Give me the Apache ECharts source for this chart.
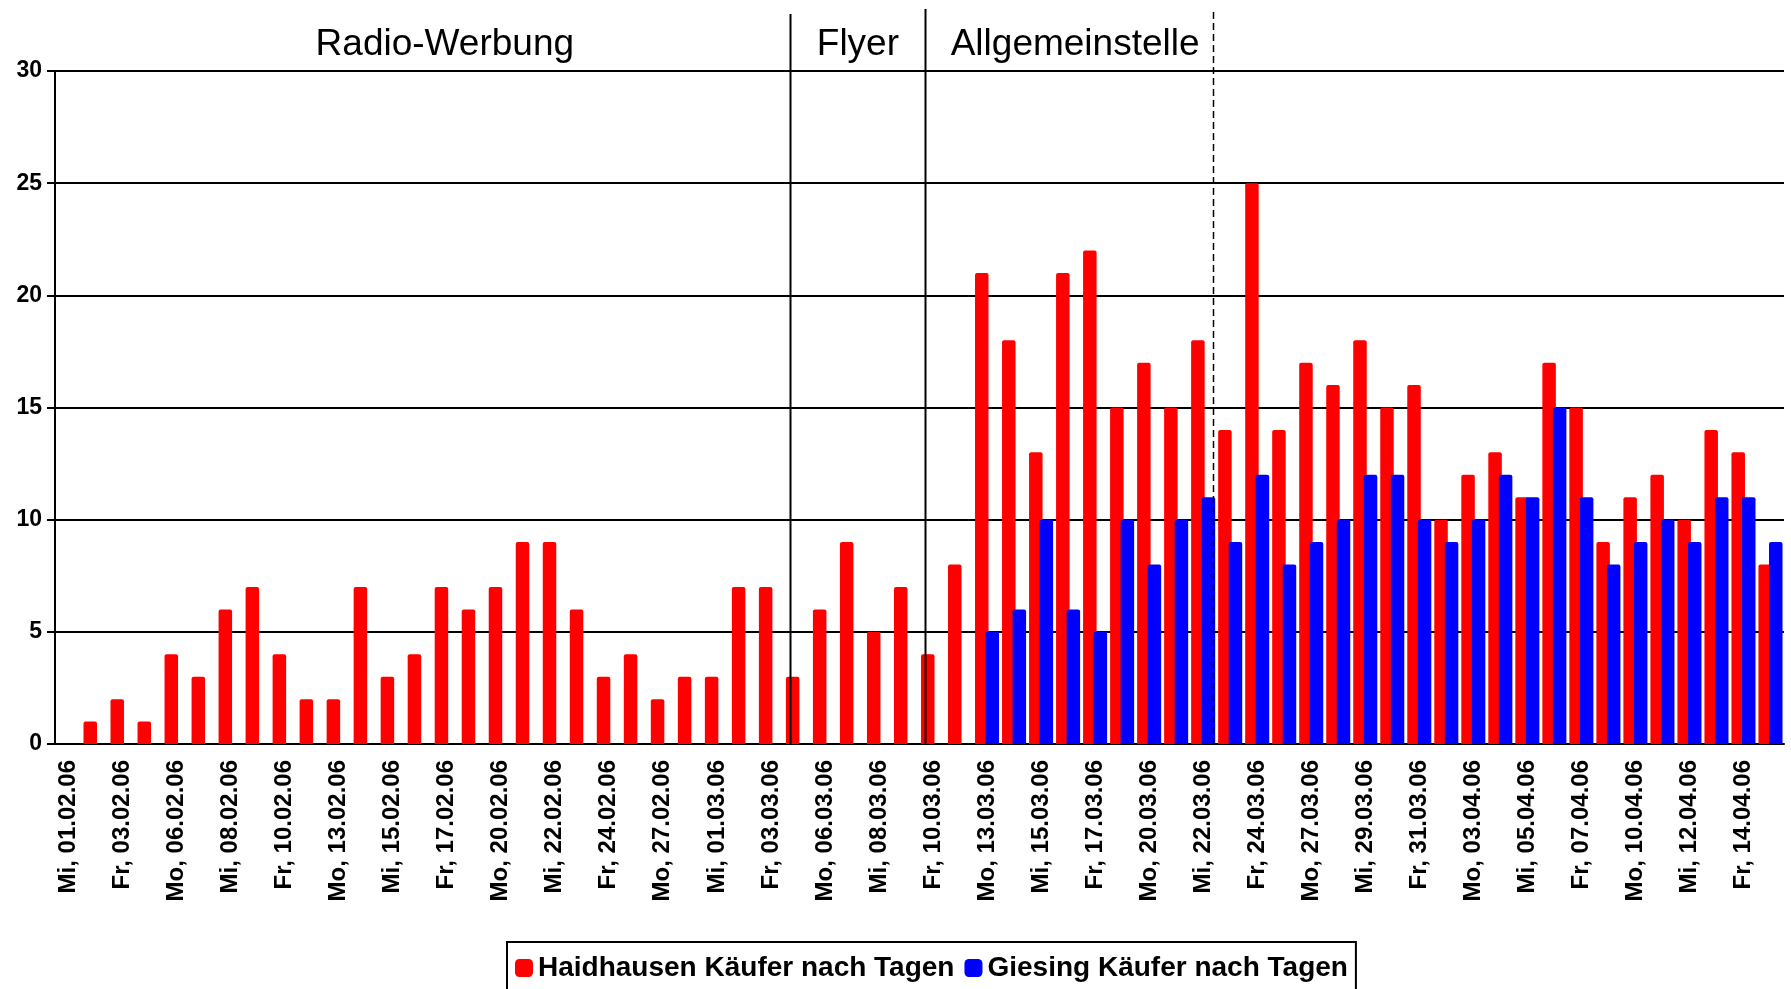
<!DOCTYPE html>
<html>
<head>
<meta charset="utf-8">
<title>Käufer nach Tagen</title>
<script src="https://cdn.jsdelivr.net/npm/echarts@6/dist/echarts.min.js"></script>
<style>
  html, body { margin: 0; padding: 0; background: #fff; }
  #main { width: 1791px; height: 989px; }
</style>
</head>
<body>
<div id="main"></div>
<script>
var days = [
  'Mi, 01.02.06', 'Do, 02.02.06', 'Fr, 03.02.06', 'Sa, 04.02.06', 'Mo, 06.02.06', 'Di, 07.02.06',
  'Mi, 08.02.06', 'Do, 09.02.06', 'Fr, 10.02.06', 'Sa, 11.02.06', 'Mo, 13.02.06', 'Di, 14.02.06',
  'Mi, 15.02.06', 'Do, 16.02.06', 'Fr, 17.02.06', 'Sa, 18.02.06', 'Mo, 20.02.06', 'Di, 21.02.06',
  'Mi, 22.02.06', 'Do, 23.02.06', 'Fr, 24.02.06', 'Sa, 25.02.06', 'Mo, 27.02.06', 'Di, 28.02.06',
  'Mi, 01.03.06', 'Do, 02.03.06', 'Fr, 03.03.06', 'Sa, 04.03.06', 'Mo, 06.03.06', 'Di, 07.03.06',
  'Mi, 08.03.06', 'Do, 09.03.06', 'Fr, 10.03.06', 'Sa, 11.03.06', 'Mo, 13.03.06', 'Di, 14.03.06',
  'Mi, 15.03.06', 'Do, 16.03.06', 'Fr, 17.03.06', 'Sa, 18.03.06', 'Mo, 20.03.06', 'Di, 21.03.06',
  'Mi, 22.03.06', 'Do, 23.03.06', 'Fr, 24.03.06', 'Sa, 25.03.06', 'Mo, 27.03.06', 'Di, 28.03.06',
  'Mi, 29.03.06', 'Do, 30.03.06', 'Fr, 31.03.06', 'Sa, 01.04.06', 'Mo, 03.04.06', 'Di, 04.04.06',
  'Mi, 05.04.06', 'Do, 06.04.06', 'Fr, 07.04.06', 'Sa, 08.04.06', 'Mo, 10.04.06', 'Di, 11.04.06',
  'Mi, 12.04.06', 'Do, 13.04.06', 'Fr, 14.04.06', 'Sa, 15.04.06'
]
var haidhausen = [
  null, 1, 2, 1, 4, 3, 6, 7, 4, 2, 2, 7, 3, 4, 7, 6, 7, 9, 9, 6,
  3, 4, 2, 3, 3, 7, 7, 3, 6, 9, 5, 7, 4, 8, 21, 18, 13, 21, 22, 15,
  17, 15, 18, 14, 25, 14, 17, 16, 18, 15, 16, 10, 12, 13, 11, 17, 15, 9, 11, 12,
  10, 14, 13, 8
]
var giesing = [
  null, null, null, null, null, null, null, null, null, null, null, null, null, null, null, null, null,
  null, null, null, null, null, null, null, null, null, null, null, null, null, null, null, null, null,
  5, 6, 10, 6, 5, 10, 8, 10, 11, 9, 12, 8, 9, 10, 12, 12, 10, 9, 10, 12,
  11, 15, 11, 8, 9, 10, 9, 11, 11, 9
]
var seriesNames = ['Haidhausen Käufer nach Tagen', 'Giesing Käufer nach Tagen']
// Werbephasen oben: Name, Mitte und Trennlinie (in Kategorie-Einheiten)
var phaseNames = ['Radio-Werbung', 'Flyer', 'Allgemeinstelle']
var phaseCenters = [13.93, 29.22, 37.26]
var phaseBounds = [26.69, 31.71, 42.37]

var font = '"Liberation Sans", Arial, sans-serif'

var myChart = echarts.init(document.getElementById('main'))
myChart.setOption({
  animation: false,
  grid: {
    left: 55,
    right: 7,
    top: 71,
    bottom: 245
  },
  legend: {
    data: seriesNames,
    left: 507,
    top: 942,
    padding: [12, 8, 14, 8],
    borderColor: '#000',
    borderWidth: 2,
    itemWidth: 18,
    itemHeight: 18,
    itemGap: 10,
    icon: 'roundRect',
    textStyle: {
      fontFamily: font,
      fontWeight: 'bold',
      fontSize: 28,
      color: '#000'
    }
  },
  xAxis: {
    type: 'category',
    data: days,
    axisLine: {
      lineStyle: { color: '#000', width: 2 }
    },
    axisTick: {
      interval: 0,
      length: 8,
      lineStyle: { color: '#000', width: 2 }
    },
    axisLabel: {
      interval: 1,
      rotate: 90,
      margin: 16,
      fontFamily: font,
      fontWeight: 'bold',
      fontSize: 24,
      color: '#000'
    },
    splitLine: { show: false }
  },
  yAxis: {
    type: 'value',
    min: 0,
    max: 30,
    interval: 5,
    axisLine: {
      show: true,
      lineStyle: { color: '#000', width: 2 }
    },
    axisTick: {
      show: true,
      length: 8,
      lineStyle: { color: '#000', width: 2 }
    },
    axisLabel: {
      margin: 13,
      fontFamily: font,
      fontWeight: 'bold',
      fontSize: 23,
      color: '#000'
    },
    splitLine: {
      lineStyle: { color: '#000', width: 2 }
    }
  },
  series: [
    {
      name: seriesNames[0],
      type: 'bar',
      data: haidhausen,
      barWidth: '50%',
      barGap: '-22%',
      itemStyle: { color: '#ff0000', borderRadius: [2, 2, 0, 0] }
    },
    {
      name: seriesNames[1],
      type: 'bar',
      data: giesing,
      barWidth: '50%',
      barGap: '-22%',
      itemStyle: { color: '#0000ff', borderRadius: [2, 2, 0, 0] }
    }
  ]
})

// Kategorie-Position (auch Bruchteile) -> Pixel
function catX (p) {
  var i = Math.floor(p)
  var a = myChart.convertToPixel({ xAxisIndex: 0 }, i)
  var b = myChart.convertToPixel({ xAxisIndex: 0 }, i + 1)
  return a + (p - i) * (b - a)
}

var yBottom = myChart.convertToPixel({ yAxisIndex: 0 }, 0)
var lineTops = [14, 9, 12]
var elements = []
phaseBounds.forEach(function (p, k) {
  var x = Math.round(catX(p)) + 0.5
  elements.push({
    type: 'line',
    shape: { x1: x, y1: lineTops[k], x2: x, y2: yBottom },
    style: {
      stroke: '#000',
      lineWidth: k === 2 ? 1.5 : 2,
      lineDash: k === 2 ? [7, 4] : null
    },
    z: 10
  })
})
phaseNames.forEach(function (name, k) {
  elements.push({
    type: 'text',
    x: catX(phaseCenters[k]),
    y: 45,
    style: {
      text: name,
      font: '37px ' + font,
      fill: '#000',
      align: 'center',
      verticalAlign: 'middle'
    },
    z: 10
  })
})
myChart.setOption({ graphic: elements })
</script>
</body>
</html>
